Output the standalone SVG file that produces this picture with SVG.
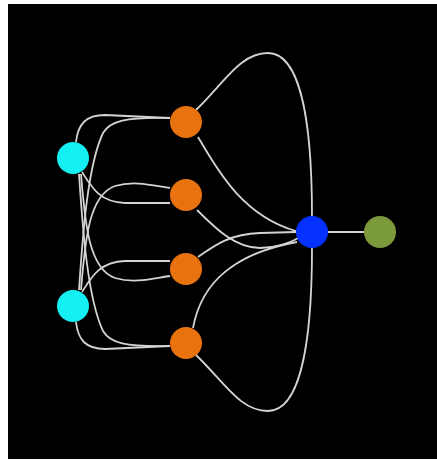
<svg xmlns="http://www.w3.org/2000/svg" width="437" height="461" viewBox="0 0 437 461">
  <style>
    .e { fill: none; stroke: #d4d4d4; stroke-width: 1.8; }
    .cyan { fill: #14f0f2; }
    .orange { fill: #e8720e; }
    .blue { fill: #0532ff; }
    .green { fill: #7b9a3c; }
  </style>
  <rect x="0" y="0" width="437" height="461" fill="#ffffff"/>
  <rect x="8" y="4" width="429" height="455" fill="#000000"/>
  <g id="connectors">
    <path class="e" d="M 76,142 C 78,124 86,115 105,115 L 170,118"/>
    <path class="e" d="M 79,290 C 83,230 88,165 103,133 C 110,121 125,117 170,118"/>
    <path class="e" d="M 82,172 C 92,188 100,202 125,203 L 170,203"/>
    <path class="e" d="M 81,290 C 85,240 89,195 115,186 C 135,180 155,186 170,188"/>
    <path class="e" d="M 81,174 C 85,224 89,269 115,278 C 135,284 155,278 170,276"/>
    <path class="e" d="M 82,292 C 92,276 100,262 125,261 L 170,261"/>
    <path class="e" d="M 79,174 C 83,234 88,299 103,331 C 110,343 125,347 170,346"/>
    <path class="e" d="M 76,322 C 78,340 86,349 105,349 L 170,346"/>
    <path class="e" d="M 196,110 C 225,82 240,53 268,53 C 300,53 312,120 312,216"/>
    <path class="e" d="M 196,355 C 225,383 240,411 268,411 C 300,411 312,344 312,248"/>
    <path class="e" d="M 198,137 C 215,165 240,215 296,231"/>
    <path class="e" d="M 197,210 C 215,228 235,248 260,248 C 275,248 290,243 298,238"/>
    <path class="e" d="M 198,257 C 215,245 230,234 260,233 L 296,232"/>
    <path class="e" d="M 193,328 C 200,290 225,255 297,242"/>
    <path class="e" d="M 328,232 L 364,232"/>
  </g>
  <g id="c1"><circle class="cyan" cx="73" cy="158" r="16"/></g>
  <g id="c2"><circle class="cyan" cx="73" cy="306" r="16"/></g>
  <g id="o1"><circle class="orange" cx="186" cy="122" r="16"/></g>
  <g id="o2"><circle class="orange" cx="186" cy="195" r="16"/></g>
  <g id="o3"><circle class="orange" cx="186" cy="269" r="16"/></g>
  <g id="o4"><circle class="orange" cx="186" cy="343" r="16"/></g>
  <g id="blue"><circle class="blue" cx="312" cy="232" r="16"/></g>
  <g id="green"><circle class="green" cx="380" cy="232" r="16"/></g>
</svg>
